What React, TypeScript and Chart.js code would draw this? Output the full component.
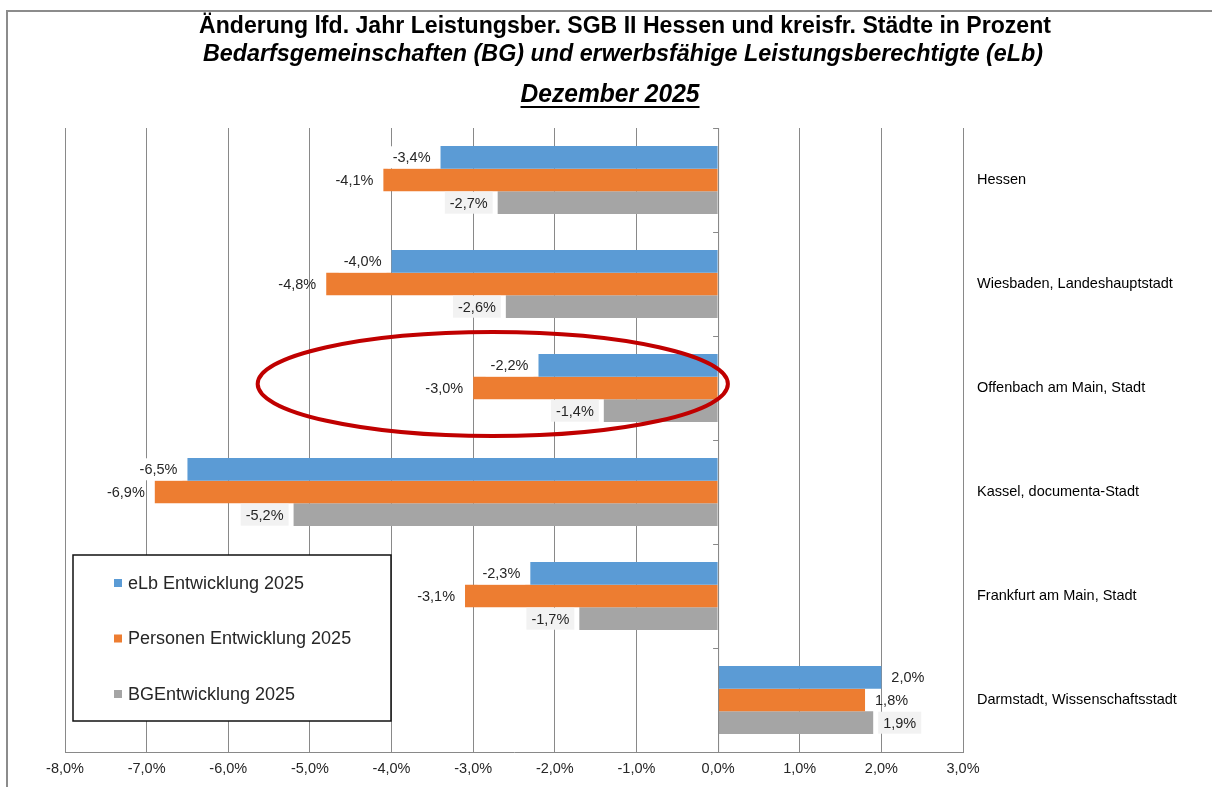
import React, { useEffect, useRef } from "react";
import { Chart, registerables } from "chart.js";

Chart.register(...registerables);

const categories = [
  "Hessen",
  "Wiesbaden, Landeshauptstadt",
  "Offenbach am Main, Stadt",
  "Kassel, documenta-Stadt",
  "Frankfurt am Main, Stadt",
  "Darmstadt, Wissenschaftsstadt",
];
const elbValues = [-3.4, -4.0, -2.2, -6.5, -2.3, 2.0];
const personenValues = [-4.1, -4.8, -3.0, -6.9, -3.1, 1.8];
const bgValues = [-2.7, -2.6, -1.4, -5.2, -1.7, 1.9];
const seriesNames = ["eLb Entwicklung 2025", "Personen Entwicklung 2025", "BGEntwicklung 2025"];
const seriesColors = ["#5B9BD5", "#ED7D31", "#A5A5A5"];
const labelBackgrounds = ["#FFFFFF", null, "#F2F2F2"];
const xMin = -8;
const xMax = 3;
const titleLines = [
  "Änderung lfd. Jahr Leistungsber. SGB II Hessen und kreisfr. Städte in Prozent",
  "Bedarfsgemeinschaften (BG) und erwerbsfähige Leistungsberechtigte (eLb)",
  "Dezember 2025",
];
// highlighted category (red ellipse) and its horizontal extent in axis units
const highlightIndex = 2;
const highlightRange = [-5.64, 0.12];

const FONT = "'Liberation Sans', Arial, sans-serif";
const fmt = (v: number) => v.toFixed(1).replace(".", ",") + "%";

const decorPlugin = {
  id: "decor",
  beforeDraw(chart: any) {
    const ctx = chart.ctx;
    ctx.save();
    ctx.fillStyle = "#fff";
    ctx.fillRect(0, 0, chart.width, chart.height);
    // frame
    ctx.strokeStyle = "#8c8c8c";
    ctx.lineWidth = 2;
    ctx.beginPath();
    ctx.moveTo(7, chart.height);
    ctx.lineTo(7, 11);
    ctx.lineTo(chart.width, 11);
    ctx.stroke();
    // titles
    const specs = [
      { font: `bold 23px ${FONT}`, w: 852, cx: 625, y: 27 },
      { font: `italic bold 23px ${FONT}`, w: 840, cx: 623, y: 55 },
      { font: `italic bold 26px ${FONT}`, w: 179, cx: 610, y: 95 },
    ];
    ctx.fillStyle = "#000";
    ctx.textAlign = "center";
    ctx.textBaseline = "middle";
    specs.forEach((s, i) => {
      ctx.font = s.font;
      const m = ctx.measureText(titleLines[i]).width;
      ctx.save();
      ctx.translate(s.cx, s.y);
      ctx.scale(s.w / m, 1);
      ctx.fillText(titleLines[i], 0, 0);
      ctx.restore();
      if (i === 2) {
        ctx.fillRect(s.cx - s.w / 2, s.y + 11, s.w, 2);
      }
    });
    ctx.restore();
  },
  afterDatasetsDraw(chart: any) {
    const ctx = chart.ctx;
    const xs = chart.scales.x;
    const area = chart.chartArea;
    // zero axis with tick marks
    const x0 = xs.getPixelForValue(0);
    ctx.save();
    ctx.strokeStyle = "#898989";
    ctx.lineWidth = 1;
    ctx.beginPath();
    ctx.moveTo(x0 + 0.5, area.top);
    ctx.lineTo(x0 + 0.5, area.bottom);
    const n = categories.length;
    const ch = (area.bottom - area.top) / n;
    for (let i = 0; i <= n; i++) {
      const y = Math.round(area.top + i * ch) + 0.5;
      ctx.moveTo(x0 - 5, y);
      ctx.lineTo(x0 + 0.5, y);
    }
    ctx.stroke();
    // data labels
    ctx.font = `14.5px ${FONT}`;
    ctx.textBaseline = "middle";
    chart.data.datasets.forEach((ds: any, di: number) => {
      const meta = chart.getDatasetMeta(di);
      meta.data.forEach((el: any, i: number) => {
        const v = ds.data[i];
        const t = fmt(v);
        const w = ctx.measureText(t).width;
        const gap = 10;
        const tx = v < 0 ? el.x - gap - w : el.x + gap;
        const bg = labelBackgrounds[di];
        if (bg) {
          ctx.fillStyle = bg;
          ctx.fillRect(tx - 5, el.y - 11, w + 10, 22);
        }
        ctx.fillStyle = "#262626";
        ctx.textAlign = "left";
        ctx.fillText(t, tx, el.y + 1);
      });
    });
    ctx.restore();
  },
  afterDraw(chart: any) {
    const ctx = chart.ctx;
    const xs = chart.scales.x;
    const ys = chart.scales.y;
    const area = chart.chartArea;
    ctx.save();
    // highlight ellipse
    const l = xs.getPixelForValue(highlightRange[0]);
    const r = xs.getPixelForValue(highlightRange[1]);
    const ch = (area.bottom - area.top) / categories.length;
    const cy = ys.getPixelForValue(highlightIndex) - 4;
    ctx.strokeStyle = "#C00000";
    ctx.lineWidth = 4;
    ctx.beginPath();
    ctx.ellipse((l + r) / 2, cy, (r - l) / 2, ch / 2, 0, 0, Math.PI * 2);
    ctx.stroke();
    // legend box
    const bx = 73, by = 555, bw = 318, bh = 166;
    ctx.fillStyle = "#fff";
    ctx.fillRect(bx, by, bw, bh);
    ctx.strokeStyle = "#111";
    ctx.lineWidth = 1.5;
    ctx.strokeRect(bx, by, bw, bh);
    ctx.font = `18px ${FONT}`;
    ctx.textBaseline = "middle";
    ctx.textAlign = "left";
    const rows = [583, 638.5, 694];
    chart.data.datasets.forEach((ds: any, i: number) => {
      ctx.fillStyle = ds.backgroundColor;
      ctx.fillRect(114, rows[i] - 4, 8, 8);
      ctx.fillStyle = "#262626";
      ctx.fillText(ds.label, 128, rows[i] + 1);
    });
    ctx.restore();
  },
};

export default function App() {
  const ref = useRef<HTMLCanvasElement | null>(null);
  useEffect(() => {
    if (!ref.current) return;
    const values = [elbValues, personenValues, bgValues];
    const chart = new Chart(ref.current, {
      type: "bar",
      data: {
        labels: categories,
        datasets: seriesNames.map((name, i) => ({
          label: name,
          data: values[i],
          backgroundColor: seriesColors[i],
          borderWidth: 0,
          categoryPercentage: 0.655,
          barPercentage: 1,
        })),
      },
      options: {
        indexAxis: "y",
        responsive: false,
        animation: false,
        layout: { padding: { top: 128, left: 65, right: 0, bottom: 0 } },
        plugins: {
          legend: { display: false },
          title: { display: false },
          tooltip: { enabled: false },
        },
        scales: {
          x: {
            min: xMin,
            max: xMax,
            ticks: {
              stepSize: 1,
              callback: (v: any) => fmt(Number(v)),
              font: { family: FONT, size: 14.5 },
              color: "#262626",
              padding: 8,
              maxRotation: 0,
            },
            grid: { color: "#898989", drawTicks: false, lineWidth: 1 },
            border: { color: "#898989" },
            afterFit: (s: any) => {
              s.height = 35;
            },
          },
          y: {
            position: "right",
            grid: { display: false },
            border: { display: false },
            ticks: {
              font: { family: FONT, size: 14.5 },
              color: "#000",
              padding: 6,
            },
            afterFit: (s: any) => {
              s.width = 249;
            },
          },
        },
      } as any,
      plugins: [decorPlugin],
    });
    return () => chart.destroy();
  }, []);
  return (
    <div style={{ position: "fixed", left: 0, top: 0, width: 1212, height: 787, background: "#fff" }}>
      <canvas ref={ref} width={1212} height={787} style={{ display: "block" }} />
    </div>
  );
}
